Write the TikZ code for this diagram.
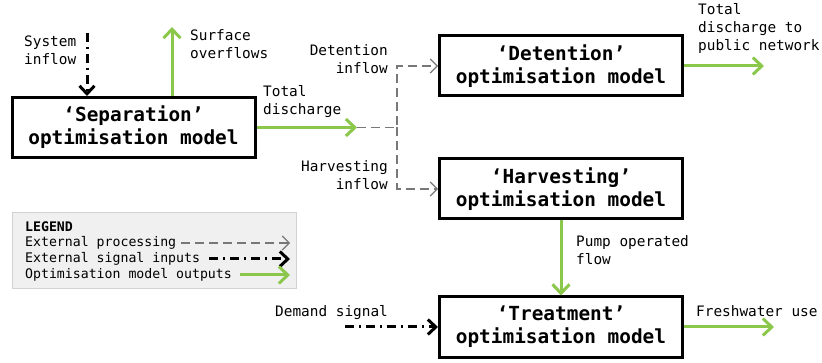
\documentclass[tikz,border=0pt]{standalone}
\usepackage{fontspec}
\setmonofont{DejaVu Sans Mono}
\usetikzlibrary{arrows.meta,positioning}
\definecolor{OutClr}{RGB}{139,199,74}
\definecolor{ExtClr}{RGB}{120,120,120}
\definecolor{LegClr}{RGB}{240,240,240}
\definecolor{LegLine}{RGB}{210,210,210}

\tikzset{
  model/.style={draw=black, line width=3pt, minimum width=243pt, minimum height=60pt,
    align=center, inner sep=0pt, font=\fontsize{19.4}{23}\selectfont\ttfamily\bfseries},
  lbl/.style={inner sep=0pt, font=\fontsize{14.4}{18}\selectfont\ttfamily},
  leglbl/.style={inner sep=0pt, anchor=west, font=\fontsize{13.2}{16}\selectfont\ttfamily},
  outflow/.style={draw=OutClr, line width=3pt, -{Straight Barb[length=9pt,width=17pt]}},
  signal/.style={draw=black, line width=3pt, dash pattern=on 9pt off 5pt on 2pt off 5pt,
    -{Straight Barb[length=8pt,width=15pt]}},
  extflow/.style={draw=ExtClr, line width=1.1pt, dash pattern=on 9pt off 5pt,
    -{Straight Barb[length=7pt,width=14pt]}}
}

\begin{document}
\begin{tikzpicture}[x=1pt,y=-1pt]
\useasboundingbox (0,0) rectangle (822,363);

% models
\node[model] (sep) at (133.5,127.5) {‘Separation’\\optimisation model};
\node[model] (det) at (561,66) {‘Detention’\\optimisation model};
\node[model] (harv) at (561,189) {‘Harvesting’\\optimisation model};
\node[model] (treat) at (561,327) {‘Treatment’\\optimisation model};

% free ends
\coordinate (sysin) at (87,33);
\coordinate (surf) at (172,27);
\coordinate (junc) at (357,127.5);
\coordinate (split) at (397,127.5);
\coordinate (pubnet) at (764,66);
\coordinate (demand) at (345,327);
\coordinate (fresh) at (774,327);

% labels
\node[lbl, anchor=west, align=left] (sysinlbl) at (24,50) {System\\inflow};
\node[lbl, anchor=west, align=left] (surflbl) at (190,44) {Surface\\overflows};
\node[lbl, anchor=west, align=left] (totlbl) at (263,102) {Total\\discharge};
\node[lbl, anchor=east, align=right] (detlbl) at (388,59) {Detention\\inflow};
\node[lbl, anchor=east, align=right] (harvlbl) at (388,175) {Harvesting\\inflow};
\node[lbl, anchor=west, align=left] (publbl) at (698,28) {Total\\discharge to\\public network};
\node[lbl, anchor=west, align=left] (pumplbl) at (576,250) {Pump operated\\flow};
\node[lbl, anchor=west] (demlbl) at (275,313) {Demand signal};
\node[lbl, anchor=west] (freshlbl) at (696,311) {Freshwater use};

% connectors
\draw[signal] (sysin) -- (sysin |- sep.north);
\draw[outflow] (sep.north -| surf) -- (surf);
\draw[outflow] (sep.east) -- (junc);
\draw[extflow] (junc) -- (split) |- (det.west);
\draw[extflow] (split) |- (harv.west);
\draw[outflow] (det.east) -- (pubnet);
\draw[outflow] (harv.south) -- (treat.north);
\draw[signal] (demand) -- (treat.west);
\draw[outflow] (treat.east) -- (fresh);

% legend
\node[draw=LegLine, fill=LegClr, line width=0.8pt, minimum width=284pt, minimum height=76pt,
  inner sep=0pt] (legend) at (154,250) {};
\node[leglbl, font=\fontsize{13.2}{16}\selectfont\ttfamily\bfseries] (leghead) at (25,227) {LEGEND};
\node[leglbl] (legext) at (25,243) {External processing};
\node[leglbl] (legsig) at (25,259) {External signal inputs};
\node[leglbl] (legout) at (25,275) {Optimisation model outputs};
\coordinate (legextend) at (290,243);
\coordinate (legsigend) at (290,259);
\coordinate (legoutend) at (290,275);
\draw[extflow] ([xshift=5pt]legext.east) -- (legextend);
\draw[signal] ([xshift=9pt]legsig.east) -- (legsigend);
\draw[outflow] ([xshift=8pt]legout.east) -- (legoutend);

\end{tikzpicture}
\end{document}
